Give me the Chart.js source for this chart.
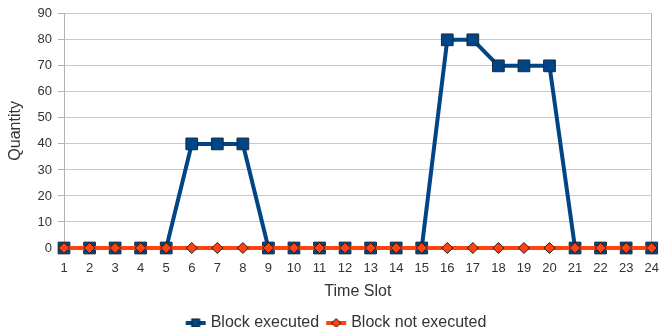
<!DOCTYPE html>
<html>
<head>
<meta charset="utf-8">
<script src="https://cdn.jsdelivr.net/npm/chart.js@4/dist/chart.umd.min.js"></script>
<style>
  html, body { margin: 0; padding: 0; background: #fff; }
  #wrap { width: 661px; height: 327px; }
</style>
</head>
<body>
<div id="wrap"><canvas id="c" width="661" height="327"></canvas></div>
<script>
// Time slots on the x axis
const timeSlots = ['1','2','3','4','5','6','7','8','9','10','11','12','13','14','15','16','17','18','19','20','21','22','23','24'];
// Quantity of blocks executed per slot
const blockExecuted = [0,0,0,0,0,40,40,40,0,0,0,0,0,0,0,80,80,70,70,70,0,0,0,0];
// Quantity of blocks not executed per slot
const blockNotExecuted = [0,0,0,0,0,0,0,0,0,0,0,0,0,0,0,0,0,0,0,0,0,0,0,0];
// Y axis tick values
const yTicks = [0,10,20,30,40,50,60,70,80,90];

const BLUE = '#004586';
const ORANGE = '#ff420e';
const FONT = '"Liberation Sans", Arial, sans-serif';

// Legend swatch: a short line with the series marker on it.
function legendIcon(color, shape) {
  const cv = document.createElement('canvas');
  cv.width = 26; cv.height = 12;
  const g = cv.getContext('2d');
  const x0 = 3, w = 20, cx = x0 + w / 2, cy = 6;
  g.strokeStyle = color; g.lineWidth = 4;
  g.beginPath(); g.moveTo(x0, cy); g.lineTo(x0 + w, cy); g.stroke();
  g.fillStyle = color; g.strokeStyle = '#1a1a1a'; g.lineWidth = 1;
  if (shape === 'square') {
    g.fillRect(cx - 4, cy - 4, 8, 8); g.strokeRect(cx - 4, cy - 4, 8, 8);
  } else {
    g.beginPath(); g.moveTo(cx, cy - 4.5); g.lineTo(cx + 4.5, cy); g.lineTo(cx, cy + 4.5); g.lineTo(cx - 4.5, cy); g.closePath();
    g.fill(); g.stroke();
  }
  return cv;
}

// Nudge the legend block slightly right and up after layout
const legendNudge = {
  id: 'legendNudge',
  afterLayout(chart) {
    const lg = chart.legend;
    if (!lg) return;
    lg.left += 8; lg.right += 8;
    lg.top -= 1; lg.bottom -= 1;
  }
};

new Chart(document.getElementById('c'), {
  type: 'line',
  data: {
    labels: timeSlots,
    datasets: [
      {
        label: 'Block executed',
        data: blockExecuted,
        borderColor: BLUE,
        backgroundColor: BLUE,
        borderWidth: 4,
        pointStyle: 'rect',
        pointRadius: 8.3,
        pointBorderColor: '#1a2a3a',
        pointBorderWidth: 1,
        pointBackgroundColor: BLUE,
        tension: 0,
        clip: false,
        order: 2
      },
      {
        label: 'Block not executed',
        data: blockNotExecuted,
        borderColor: ORANGE,
        backgroundColor: ORANGE,
        borderWidth: 4,
        pointStyle: 'rectRot',
        pointRadius: 5.5,
        pointBorderColor: '#1a1a1a',
        pointBorderWidth: 1,
        pointBackgroundColor: ORANGE,
        tension: 0,
        clip: false,
        order: 1
      }
    ]
  },
  plugins: [legendNudge],
  options: {
    responsive: false,
    animation: false,
    devicePixelRatio: 1,
    layout: { padding: { top: 12, right: 6, left: 4, bottom: -15 } },
    plugins: {
      tooltip: { enabled: false },
      legend: {
        position: 'bottom',
        labels: {
          font: { family: FONT, size: 16 },
          color: '#333',
          boxHeight: 12,
          pointStyleWidth: 14,
          padding: 10,
          usePointStyle: true,
          generateLabels(chart) {
            return chart.data.datasets.map((ds, i) => ({
              text: ds.label,
              pointStyle: legendIcon(ds.borderColor, i === 0 ? 'square' : 'diamond'),
              fillStyle: ds.borderColor,
              strokeStyle: ds.borderColor,
              lineWidth: 0,
              fontColor: '#333',
              datasetIndex: i
            }));
          }
        }
      }
    },
    scales: {
      x: {
        offset: false,
        afterFit(axis) { axis.height = 58; axis.paddingRight = 0; },
        grid: {
          drawTicks: false,
          color: (ctx) => (ctx.index === timeSlots.length - 1 ? '#b3b3b3' : 'rgba(0,0,0,0)'),
          lineWidth: 1
        },
        border: { display: false },
        ticks: {
          font: { family: FONT, size: 13 },
          color: '#333',
          padding: 13,
          maxRotation: 0,
          autoSkip: false
        },
        title: {
          display: true,
          text: 'Time Slot',
          font: { family: FONT, size: 16 },
          color: '#333',
          padding: { top: 0, bottom: 5 }
        }
      },
      y: {
        min: 0,
        max: 90,
        afterBuildTicks(axis) { axis.ticks = yTicks.map(v => ({ value: v })); },
        afterFit(axis) { axis.width = 60; },
        grid: {
          color: '#c8c8c8',
          lineWidth: 1,
          tickLength: 6,
          tickColor: '#b3b3b3'
        },
        border: { display: true, color: '#b3b3b3', width: 1 },
        ticks: {
          font: { family: FONT, size: 13 },
          color: '#333',
          padding: 6
        },
        title: {
          display: true,
          text: 'Quantity',
          font: { family: FONT, size: 16 },
          color: '#333',
          padding: { top: 2, bottom: 6 }
        }
      }
    }
  }
});
</script>
</body>
</html>
